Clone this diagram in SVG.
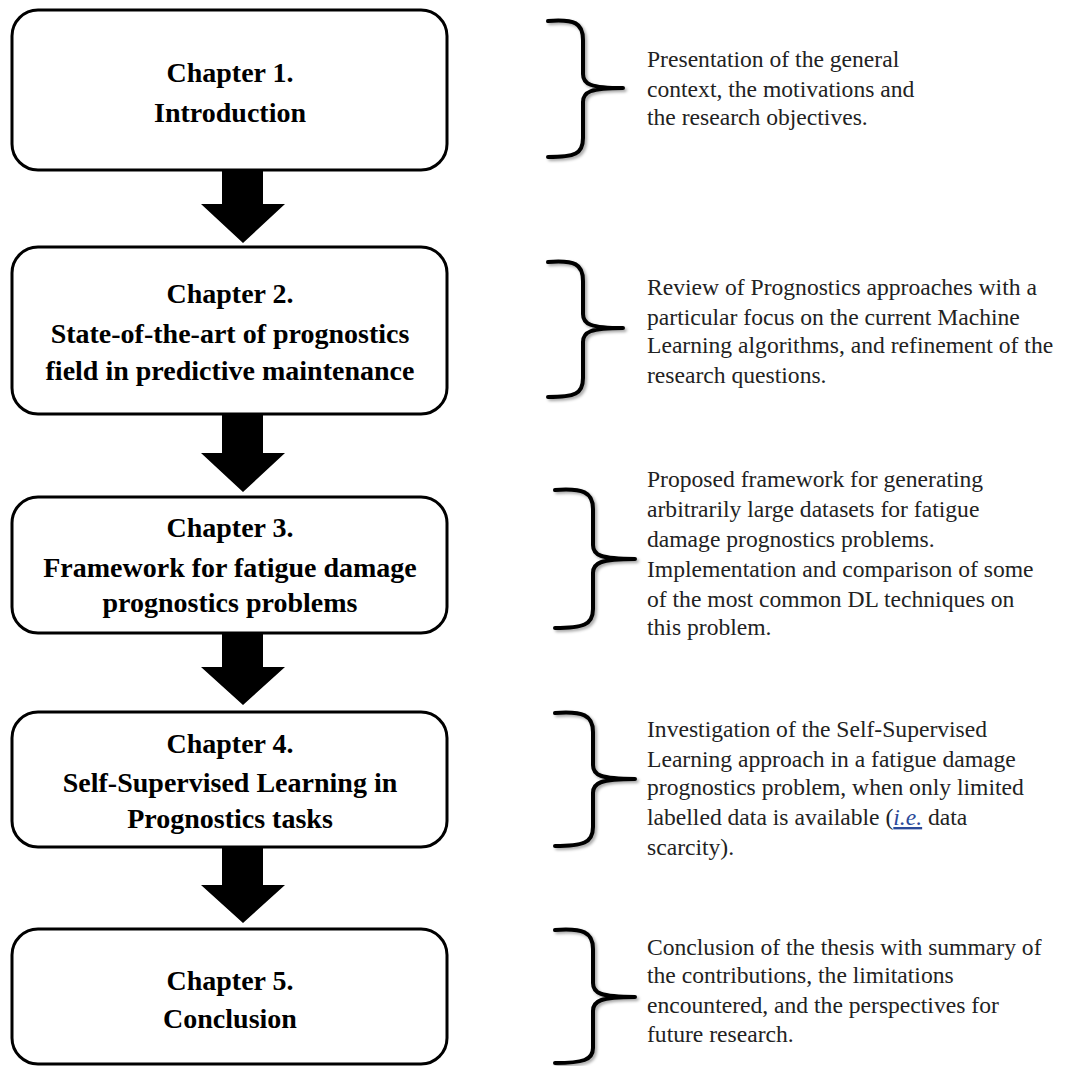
<svg xmlns="http://www.w3.org/2000/svg" width="1085" height="1066" viewBox="0 0 1085 1066">
<defs>
<filter id="sh" x="-20%" y="-20%" width="140%" height="140%">
<feDropShadow dx="2" dy="2" stdDeviation="1.5" flood-color="#000" flood-opacity="0.35"/>
</filter>
<style>
.box{fill:#fff;stroke:#000;stroke-width:3}
.ch{font-family:"Liberation Serif","Times New Roman",serif;font-weight:bold;font-size:28px;fill:#000;text-anchor:middle}
.desc{font-family:"Liberation Serif","Times New Roman",serif;font-size:23.6px;fill:#222}
.br{fill:none;stroke:#000;stroke-width:4;stroke-linecap:round;stroke-linejoin:round;filter:url(#sh)}
.arr{fill:#000}
</style>
</defs>
<rect width="1085" height="1066" fill="#fff"/>

<g id="connectors">
<polygon class="arr" points="222,170 263,170 263,204 285,204 243,243 201,204 222,204"/>
<polygon class="arr" points="222,414 263,414 263,453 285,453 243,492 201,453 222,453"/>
<polygon class="arr" points="222,633 263,633 263,667 285,667 243,705 201,667 222,667"/>
<polygon class="arr" points="222,847 263,847 263,885 285,885 243,923 201,885 222,885"/>
</g>

<g id="node1">
<rect class="box" x="12" y="10" width="435" height="160" rx="26"/>
<text class="ch" x="230" y="82">Chapter 1.</text>
<text class="ch" x="230" y="122">Introduction</text>
</g>
<g id="node2">
<rect class="box" x="12" y="247" width="435" height="167" rx="26"/>
<text class="ch" x="230" y="303">Chapter 2.</text>
<text class="ch" x="230" y="343">State-of-the-art of prognostics</text>
<text class="ch" x="230" y="380">field in predictive maintenance</text>
</g>
<g id="node3">
<rect class="box" x="12" y="497" width="435" height="136" rx="26"/>
<text class="ch" x="230" y="537">Chapter 3.</text>
<text class="ch" x="230" y="577">Framework for fatigue damage</text>
<text class="ch" x="230" y="612">prognostics problems</text>
</g>
<g id="node4">
<rect class="box" x="12" y="712" width="435" height="135" rx="26"/>
<text class="ch" x="230" y="753">Chapter 4.</text>
<text class="ch" x="230" y="792">Self-Supervised Learning in</text>
<text class="ch" x="230" y="828">Prognostics tasks</text>
</g>
<g id="node5">
<rect class="box" x="12" y="929" width="435" height="135" rx="26"/>
<text class="ch" x="230" y="990">Chapter 5.</text>
<text class="ch" x="230" y="1028">Conclusion</text>
</g>

<g id="desc1">
<path class="br" d="M548 21 C575 19 583 23 583 40 L583 74 C583 84 590 88 623 88 C590 88 583 92 583 102 L583 138 C583 154 575 157 548 157"/>
<text class="desc" x="647" y="67">Presentation of the general</text>
<text class="desc" x="647" y="97">context, the motivations and</text>
<text class="desc" x="647" y="125">the research objectives.</text>
</g>
<g id="desc2">
<path class="br" d="M548 262 C575 260 583 264 583 281 L583 314 C583 324 590 328 623 328 C590 328 583 332 583 342 L583 378 C583 394 575 397 548 397"/>
<text class="desc" x="647" y="295">Review of Prognostics approaches with a</text>
<text class="desc" x="647" y="325">particular focus on the current Machine</text>
<text class="desc" x="647" y="353">Learning algorithms, and refinement of the</text>
<text class="desc" x="647" y="383">research questions.</text>
</g>
<g id="desc3">
<path class="br" d="M555 490 C583 488 593 492 593 509 L593 545 C593 555 600 559 635 559 C600 559 593 563 593 573 L593 609 C593 625 583 628 555 628"/>
<text class="desc" x="647" y="487">Proposed framework for generating</text>
<text class="desc" x="647" y="517">arbitrarily large datasets for fatigue</text>
<text class="desc" x="647" y="547">damage prognostics problems.</text>
<text class="desc" x="647" y="577">Implementation and comparison of some</text>
<text class="desc" x="647" y="607">of the most common DL techniques on</text>
<text class="desc" x="647" y="635">this problem.</text>
</g>
<g id="desc4">
<path class="br" d="M555 713 C583 711 593 715 593 732 L593 765 C593 775 600 779 635 779 C600 779 593 783 593 793 L593 827 C593 843 583 846 555 846"/>
<text class="desc" x="647" y="737">Investigation of the Self-Supervised</text>
<text class="desc" x="647" y="767">Learning approach in a fatigue damage</text>
<text class="desc" x="647" y="795">prognostics problem, when only limited</text>
<text class="desc" x="647" y="825">labelled data is available (<tspan font-style="italic" fill="#2b4a9a" text-decoration="underline">i.e.</tspan> data</text>
<text class="desc" x="647" y="855">scarcity).</text>
</g>
<g id="desc5">
<path class="br" d="M555 930 C583 928 593 932 593 949 L593 983 C593 993 600 997 635 997 C600 997 593 1001 593 1011 L593 1048 C593 1060 583 1063 555 1063"/>
<text class="desc" x="647" y="955">Conclusion of the thesis with summary of</text>
<text class="desc" x="647" y="983">the contributions, the limitations</text>
<text class="desc" x="647" y="1013">encountered, and the perspectives for</text>
<text class="desc" x="647" y="1042">future research.</text>
</g>
</svg>
